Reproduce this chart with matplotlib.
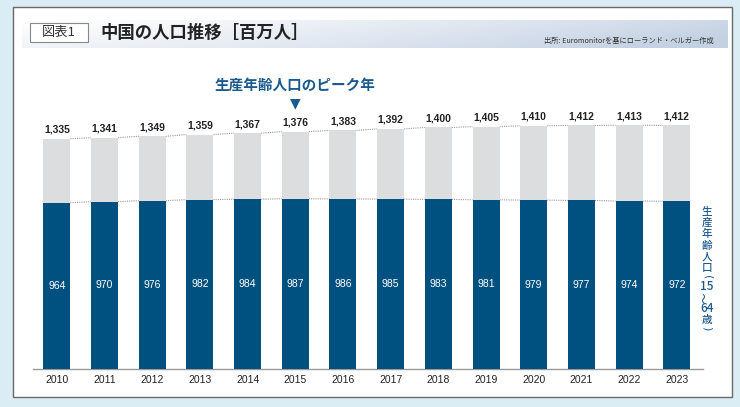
import matplotlib
matplotlib.use("Agg")
import matplotlib.pyplot as plt
import numpy as np
from matplotlib.patches import Rectangle

plt.rcParams['font.family'] = ['Noto Sans CJK JP', 'DejaVu Sans']

years = ["2010", "2011", "2012", "2013", "2014", "2015", "2016",
         "2017", "2018", "2019", "2020", "2021", "2022", "2023"]
total = [1335, 1341, 1349, 1359, 1367, 1376, 1383,
         1392, 1400, 1405, 1410, 1412, 1413, 1412]
working = [964, 970, 976, 982, 984, 987, 986,
           985, 983, 981, 979, 977, 974, 972]
peak_year = "2015"

W, H = 740, 407
fig = plt.figure(figsize=(W / 100, H / 100), dpi=100)
fig.patch.set_facecolor('#dbedf4')


def fx(x):
    return x / W


def fy(y):
    return 1 - y / H


# white panel
fig.patches.append(Rectangle((fx(13), fy(397)), fx(732) - fx(13), fy(7) - fy(397),
                             transform=fig.transFigure, facecolor='white',
                             edgecolor='#6a6a6a', linewidth=1.0, zorder=-5))

# title band gradient
band_ax = fig.add_axes([fx(22), fy(48), fx(728) - fx(22), fy(20) - fy(48)])
band_ax.set_zorder(0.5)
band_ax.set_axis_off()
nx, ny = 256, 32
gx = np.linspace(0, 1, nx)[None, :]
gy = np.linspace(0, 1, ny)[:, None]
c0 = np.array([1.0, 1.0, 1.0])
c1 = np.array([0.77, 0.82, 0.89])
t = np.clip(gx ** 1.2 * 0.85 + gy * 0.25, 0, 1)
img = c0[None, None, :] * (1 - t[..., None]) + c1[None, None, :] * t[..., None]
band_ax.imshow(img, aspect='auto', extent=[0, 1, 0, 1], origin='upper')
band_ax.set_xlim(0, 1)
band_ax.set_ylim(0, 1)

# box "図表1"
fig.patches.append(Rectangle((fx(30), fy(42)), fx(88) - fx(30), fy(23) - fy(42),
                             transform=fig.transFigure, facecolor='white',
                             edgecolor='#888888', linewidth=0.8, zorder=3))
fig.text(fx(59), fy(32.5), "図表1", ha='center', va='center', fontsize=9.5,
         color='#333333', zorder=4)
fig.text(fx(100), fy(33), "中国の人口推移［百万人］", ha='left', va='center',
         fontsize=12.5, fontweight='bold', color='#222222', zorder=4)
fig.text(fx(714), fy(41), "出所: Euromonitorを基にローランド・ベルガー作成",
         ha='right', va='center', fontsize=5.2, color='#333333', zorder=4)

# main axes
ax_left, ax_right = 33, 703
ax_bottom, ax_top = 369, 60
ax = fig.add_axes([fx(ax_left), fy(ax_bottom), fx(ax_right) - fx(ax_left),
                   fy(ax_top) - fy(ax_bottom)])
ax.set_zorder(1)
ax.set_facecolor('none')
scale = 0.1725  # px per unit
ax.set_ylim(0, (ax_bottom - ax_top) / scale)
ax.set_xlim(-0.5, 13.55)

x = np.arange(len(years))
bw = 0.566
dark = '#00517f'
light = '#dcdddf'
ax.bar(x, total, width=bw, color=light, zorder=2)
ax.bar(x, working, width=bw, color=dark, zorder=3)

# dotted connectors
for i in range(len(years) - 1):
    for series in (total, working):
        ax.plot([x[i] + bw / 2, x[i + 1] - bw / 2], [series[i], series[i + 1]],
                linestyle=(0, (1, 1)), color='#9a9a9a', linewidth=0.8, zorder=1)

narrow = ['Liberation Sans Narrow', 'Liberation Sans', 'DejaVu Sans']
for xi, tv, wv in zip(x, total, working):
    ax.annotate(f"{tv:,}", (xi, tv), xytext=(0, 3), textcoords='offset points',
                ha='center', va='bottom', fontsize=7.5, fontweight='bold',
                color='#222222', family=narrow)
    ax.text(xi, wv / 2, f"{wv}", ha='center', va='center', fontsize=7.5,
            color='white', family=narrow, zorder=4)

ax.set_xticks(x)
ax.set_xticklabels(years, family=narrow, fontsize=7.5, color='#222222')
ax.tick_params(axis='x', length=0, pad=4)
ax.set_yticks([])
for s in ('top', 'right', 'left'):
    ax.spines[s].set_visible(False)
ax.spines['bottom'].set_color('#999999')
ax.spines['bottom'].set_linewidth(1.0)

# peak annotation
pi = years.index(peak_year)
px_x = ax_left + (pi + 0.5) / 14.05 * (ax_right - ax_left)
blue_txt = '#1b5a8e'
fig.text(fx(px_x), fy(85), "生産年齢人口のピーク年", ha='center', va='center',
         fontsize=10.5, fontweight='bold', color=blue_txt)
fig.text(fx(px_x), fy(103), "▼", ha='center', va='center', fontsize=10,
         color=blue_txt, family=['DejaVu Sans'])

# vertical label
vchars = [("生", 212, 0), ("産", 223, 0), ("年", 234, 0), ("齢", 245.5, 0),
          ("人", 257, 0), ("口", 268.5, 0), ("(", 277.5, -90), ("15", 286.5, 0),
          ("〜", 297.5, 90), ("64", 308.5, 0), ("歳", 319.5, 0), (")", 328.5, -90)]
for ch, yy, rot in vchars:
    if ch.isdigit():
        fam, fs = ['Liberation Sans Narrow', 'Noto Sans CJK JP'], 8.5
    elif ch in "()":
        fam, fs = ['DejaVu Sans'], 8
    else:
        fam, fs = ['Noto Sans CJK JP', 'DejaVu Sans'], 7.6
    fig.text(fx(707), fy(yy), ch, ha='center', va='center', fontsize=fs,
             color=blue_txt, rotation=rot, family=fam, fontweight='medium')

fig.savefig("out.png", dpi=100, facecolor=fig.get_facecolor())
